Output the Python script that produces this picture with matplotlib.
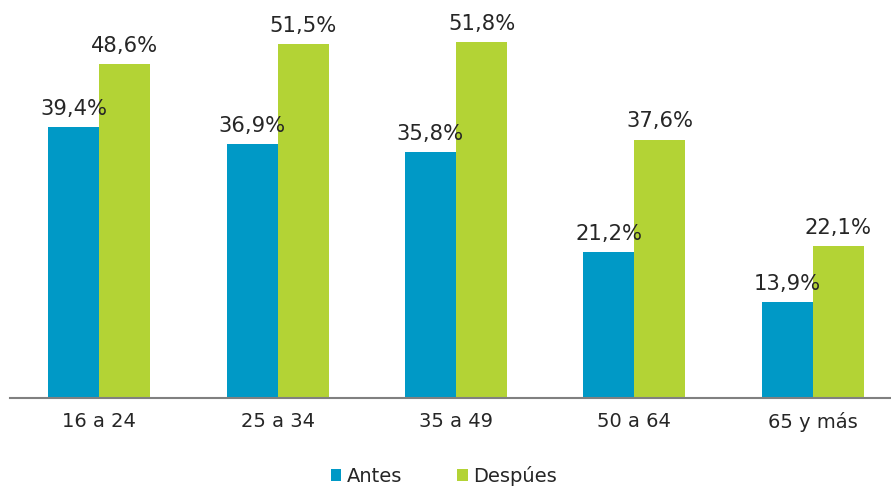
import matplotlib.pyplot as plt
import numpy as np

categories = ["16 a 24", "25 a 34", "35 a 49", "50 a 64", "65 y más"]
antes = [39.4, 36.9, 35.8, 21.2, 13.9]
despues = [48.6, 51.5, 51.8, 37.6, 22.1]

blue = "#0099C6"
green = "#B3D335"
txt = "#262626"

fig = plt.figure(figsize=(8.91, 4.87), dpi=100)
ax = fig.add_axes([10 / 891, 89 / 487, 881 / 891, 398 / 487])

x = np.arange(len(categories))
w = 0.286
b1 = ax.bar(x - w / 2, antes, w, color=blue, label="Antes")
b2 = ax.bar(x + w / 2, despues, w, color=green, label="Despúes")

def fmt(v):
    return f"{v:.1f}%".replace(".", ",")

for bars, vals in [(b1, antes), (b2, despues)]:
    for r, v in zip(bars, vals):
        ax.annotate(fmt(v), (r.get_x() + r.get_width() / 2, v),
                    xytext=(0, 6), textcoords="offset points",
                    ha="center", va="bottom", fontsize=15.2, color=txt)

ax.set_xlim(-0.5, 4.5 - 11 / 178.5)
ax.set_ylim(0, 57.9)
ax.set_xticks(x)
ax.set_xticklabels(categories, fontsize=14, color=txt)
ax.tick_params(axis="x", length=0, pad=10)
ax.set_yticks([])
for s in ["top", "right", "left"]:
    ax.spines[s].set_visible(False)
ax.spines["bottom"].set_color("#808080")
ax.spines["bottom"].set_linewidth(1.5)

fig.legend(handles=[b1, b2], loc="center", bbox_to_anchor=(444 / 891, 1 - 476 / 487),
           ncol=2, frameon=False, fontsize=14, handlelength=0.55, handleheight=0.55,
           handletextpad=0.3, columnspacing=2.8, labelcolor=txt)

fig.savefig("out.png", dpi=100)
